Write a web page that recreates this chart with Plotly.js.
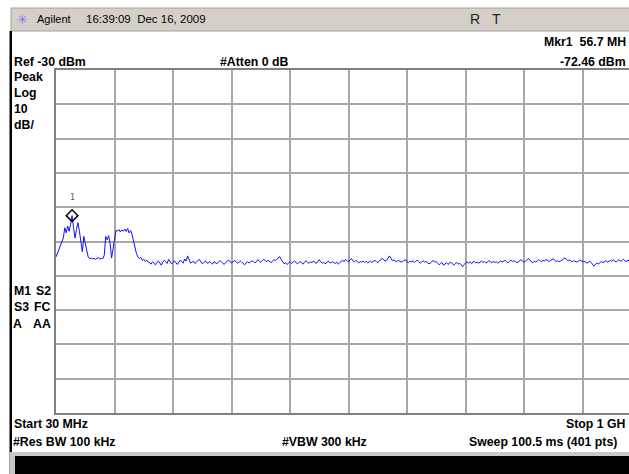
<!DOCTYPE html>
<html>
<head>
<meta charset="utf-8">
<script src="https://cdn.plot.ly/plotly-3.0.1.min.js"></script>
<style>
html,body{margin:0;padding:0;background:#fff;}
#chart{width:629px;height:474px;}
</style>
</head>
<body>
<div id="chart"></div>
<script>
// Sweep definition
const startMHz = 30;
const stopMHz = 1000;
const refLevel = -30;
const dbPerDiv = 10;

// Trace levels (dBm), 401 sweep points
const levels = [
-84.5,-83.5,-82.0,-81.5,-80.5,-79.0,-76.0,-77.5,-75.5,-77.0,
-75.0,-72.46,-76.0,-79.0,-76.5,-74.5,-77.0,-81.0,-83.0,-78.5,
-80.5,-83.5,-84.5,-85.0,-84.8,-85.1,-84.9,-85.2,-85.0,-84.7,
-85.1,-84.9,-85.0,-84.0,-78.5,-79.5,-78.3,-80.5,-84.8,-82.0,
-80.0,-76.8,-77.0,-76.5,-77.2,-76.6,-77.0,-76.4,-77.1,-76.2,
-77.5,-76.8,-78.0,-80.0,-82.0,-83.5,-84.5,-85.0,-84.6,-85.5,
-85.2,-85.8,-85.4,-86.0,
-86.2,-86.6,-85.9,-86.4,-86.8,-86.1,-85.7,-86.3,-86.9,-86.0,-85.5,-85.9,-86.4,-85.2,-85.8,-86.5,-86.1,-85.6,-86.2,-86.7,
-86.0,-85.4,-85.9,-86.3,-85.1,-85.7,-84.2,-85.6,-86.3,-86.0,-85.8,-86.4,-86.1,-85.6,-85.2,-85.9,-86.5,-86.2,-85.7,-86.0,
-86.4,-85.8,-86.2,-86.6,-85.9,-86.1,-86.5,-86.0,-85.6,-85.9,-86.3,-86.7,-86.1,-85.8,-85.4,-85.9,-86.2,-86.0,-85.5,-85.8,
-86.3,-86.1,-85.7,-86.0,-86.4,-86.8,-86.2,-85.9,-86.3,-86.0,-85.6,-85.8,-86.2,-85.9,-85.3,-85.7,-86.1,-85.6,-85.2,-85.5,
-85.9,-85.4,-85.8,-86.2,-85.7,-85.3,-85.6,-85.1,-84.9,-84.4,-85.3,-86.0,-86.5,-86.2,-86.7,-86.3,-85.9,-86.4,-86.1,-85.7,
-86.0,-86.5,-86.2,-85.8,-86.3,-86.6,-86.0,-85.6,-86.1,-86.4,-85.9,-86.2,-85.7,-86.0,-86.4,-85.8,-85.3,-85.9,-86.3,-86.1,
-86.5,-86.2,-85.8,-86.0,-86.3,-85.9,-86.1,-86.4,-86.0,-86.6,-86.2,-85.7,-85.4,-85.9,-85.2,-85.6,-86.0,-85.3,-85.0,-85.6,
-85.9,-85.5,-85.8,-86.2,-85.9,-86.0,-85.7,-86.1,-85.8,-86.2,-86.0,-85.7,-86.1,-85.9,-85.5,-85.8,-86.2,-85.6,-85.4,-84.9,
-85.3,-85.7,-85.5,-84.8,-84.2,-84.9,-85.6,-85.4,-85.8,-85.9,-85.5,-85.7,-86.0,-85.8,-85.6,-85.3,-85.9,-86.2,-85.8,-85.9,
-85.7,-86.1,-85.8,-85.4,-85.9,-86.3,-86.0,-85.6,-86.0,-85.8,-86.2,-86.5,-86.3,-85.8,-85.5,-86.0,-85.9,-86.3,-86.8,-86.4,
-86.1,-86.9,-86.5,-86.2,-86.7,-86.3,-86.0,-86.5,-86.9,-86.4,-86.1,-86.6,-86.3,-86.8,-87.3,-86.7,-86.2,-85.9,-86.3,-86.0,
-86.4,-86.1,-85.8,-86.2,-86.0,-86.3,-86.0,-85.7,-86.1,-85.9,-86.3,-86.0,-85.6,-85.9,-86.2,-85.8,-86.1,-85.9,-86.3,-86.0,
-85.7,-86.0,-85.8,-85.5,-85.9,-86.2,-85.8,-85.4,-85.9,-85.6,-85.8,-86.1,-86.0,-85.6,-85.3,-85.7,-86.0,-85.8,-85.4,-84.9,
-85.5,-85.9,-86.2,-85.8,-86.0,-85.7,-85.3,-85.6,-85.9,-85.5,-85.7,-85.2,-85.5,-85.8,-85.6,-85.4,-85.0,-85.5,-85.8,-85.6,
-85.9,-85.7,-85.4,-85.1,-84.8,-85.2,-85.6,-85.4,-85.8,-85.9,-85.6,-85.7,-86.0,-85.8,-85.4,-85.6,-85.9,-85.7,-86.0,-86.3,
-86.1,-85.7,-86.2,-86.8,-87.2,-86.6,-86.3,-86.5,-86.1,-85.8,-86.2,-85.9,-85.6,-86.0,-85.7,-85.5,-85.8,-85.3,-85.7,-86.0,
-85.6,-85.3,-85.8,-85.5,-85.2,-85.6,-85.9,-85.4,-85.7,-85.1,-85.5,-85.8,-85.3,-85.6,-85.9,-85.5,-85.7
];

// Marker 1
const markerFreq = [56.7];
const markerLevel = [-72.46];

// Screen texts (as visible on the screen)
const headerTexts = ["Agilent", "16:39:09  Dec 16, 2009", "R", "T"];
const statusTexts = ["Mkr1  56.7 MH", "Ref -30 dBm", "#Atten 0 dB", "-72.46 dBm"];
const leftTexts = ["Peak", "Log", "10", "dB/"];
const footerTexts = ["Start 30 MHz", "Stop 1 GH", "#Res BW 100 kHz", "#VBW 300 kHz", "Sweep 100.5 ms (401 pts)"];

const n = levels.length;
const step = (stopMHz - startMHz) / (n - 1);
const freqs = levels.map((_, i) => startMHz + i * step);

// layout geometry (pixels)
const W = 629, H = 474;
const L = 56, T = 70, B = 413;
const divPx = 58.5;
const R = W;
const plotW = R - L, plotH = B - T;
const xEnd = startMHz + (stopMHz - startMHz) * plotW / (divPx * 10);

const px = x => (x - L) / plotW;
const py = y => (B - y) / plotH;

const FONT = "Liberation Sans, Arial, sans-serif";
const BS = 12.3;
function txt(text, x, y, opts) {
  opts = opts || {};
  return Object.assign({
    text: text, xref: "paper", yref: "paper", x: px(x), y: py(y),
    xanchor: "left", yanchor: "middle", showarrow: false,
    font: {family: FONT, size: BS, color: "#000", weight: "bold"}
  }, opts);
}

const annotations = [
  txt("✳", 22, 19, {xanchor: "center", font: {family: "DejaVu Sans", size: 13, color: "#7b7bff"}}),
  txt(headerTexts[0], 35, 19, {font: {family: FONT, size: 11, color: "#000"}}),
  txt(headerTexts[1], 84, 19, {font: {family: FONT, size: 11.5, color: "#000"}}),
  txt(headerTexts[2], 468, 19, {font: {family: FONT, size: 14, color: "#222"}}),
  txt(headerTexts[3], 490, 19, {font: {family: FONT, size: 14, color: "#222"}}),
  txt(statusTexts[0], 628, 42, {xanchor: "right"}),
  txt(statusTexts[1], 12, 62),
  txt(statusTexts[2], 218, 62),
  txt(statusTexts[3], 628, 62, {xanchor: "right"}),
  txt(leftTexts[0], 12, 77),
  txt(leftTexts[1], 12, 93),
  txt(leftTexts[2], 12, 109),
  txt(leftTexts[3], 12, 125),
  txt("M1", 12, 291),
  txt("S2", 53, 291, {xanchor: "right"}),
  txt("S3", 12, 307),
  txt("FC", 53, 307, {xanchor: "right"}),
  txt("A", 11, 324),
  txt("AA", 53, 324, {xanchor: "right"}),
  txt(footerTexts[0], 12, 424),
  txt(footerTexts[1], 628, 424, {xanchor: "right"}),
  txt(footerTexts[2], 11, 442),
  txt(footerTexts[3], 280, 442),
  txt(footerTexts[4], 467, 442),
  {text: "1", xref: "x", yref: "y", x: markerFreq[0], y: markerLevel[0], showarrow: false,
   yshift: 18, font: {family: "DejaVu Sans Mono", size: 8, color: "#555"}}
];

const shapes = [
  // header bar
  {type: "rect", xref: "paper", yref: "paper", x0: px(11), x1: px(640), y0: py(31), y1: py(8),
   fillcolor: "#d4d0c8", line: {color: "#a0a0a0", width: 1}, layer: "below"},
  // left black rule
  {type: "rect", xref: "paper", yref: "paper", x0: px(9.5), x1: px(12), y0: py(480), y1: py(31),
   fillcolor: "#000", line: {width: 0}},
  // bottom panel
  {type: "rect", xref: "paper", yref: "paper", x0: px(9.5), x1: px(640), y0: py(480), y1: py(452),
   fillcolor: "#c8c8c8", line: {width: 0}},
  {type: "rect", xref: "paper", yref: "paper", x0: px(15), x1: px(640), y0: py(480), y1: py(456),
   fillcolor: "#000", line: {width: 0}}
];

const data = [
  {x: freqs, y: levels, type: "scatter", mode: "lines",
   line: {color: "#1010ff", width: 1}, hoverinfo: "skip"},
  {x: markerFreq, y: markerLevel, type: "scatter", mode: "markers",
   marker: {symbol: "diamond-open", size: 9, color: "#000", line: {width: 1.5, color: "#000"}},
   hoverinfo: "skip"}
];

const layout = {
  width: W, height: H,
  margin: {l: L, r: W - R, t: T, b: H - B, pad: 0},
  paper_bgcolor: "#fff", plot_bgcolor: "#fff",
  showlegend: false,
  xaxis: {range: [startMHz, xEnd], tick0: startMHz, dtick: (stopMHz - startMHz) / 10,
          showgrid: true, gridcolor: "#a8a8a8", gridwidth: 2, zeroline: false,
          showticklabels: false, ticks: "", showline: true, linecolor: "#808080", linewidth: 2, mirror: true},
  yaxis: {range: [refLevel - 10 * dbPerDiv, refLevel], tick0: refLevel, dtick: dbPerDiv,
          showgrid: true, gridcolor: "#a8a8a8", gridwidth: 2, zeroline: false,
          showticklabels: false, ticks: "", showline: true, linecolor: "#808080", linewidth: 2},
  annotations: annotations,
  shapes: shapes
};

Plotly.newPlot("chart", data, layout, {staticPlot: true, displayModeBar: false});
</script>
</body>
</html>
